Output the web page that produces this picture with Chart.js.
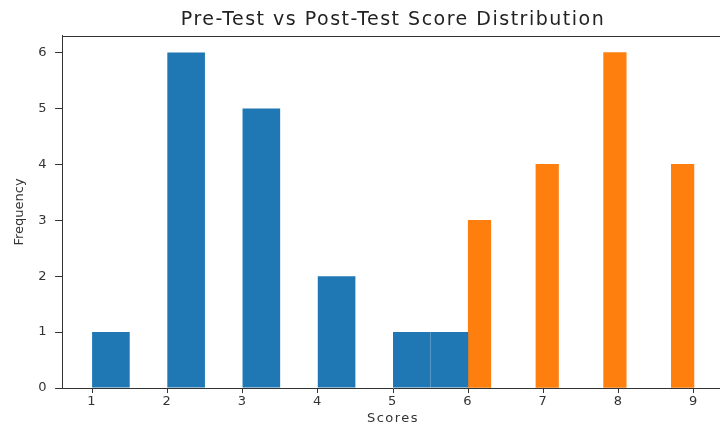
<!DOCTYPE html>
<html>
<head>
<meta charset="utf-8">
<script src="https://cdn.jsdelivr.net/npm/chart.js@4.4.0/dist/chart.umd.min.js"></script>
<style>
html, body { margin: 0; padding: 0; background: #fff; overflow: hidden; }
#wrap { width: 760px; height: 426px; }
</style>
</head>
<body>
<div id="wrap"><canvas id="report_chart"></canvas></div>
<script>
// histogram bins (10 bins each), centers and counts
var preCenters = [1.25, 1.75, 2.25, 2.75, 3.25, 3.75, 4.25, 4.75, 5.25, 5.75];
var preCounts = [1, 0, 6, 0, 5, 0, 2, 0, 1, 1];
var postCenters = [6.15, 6.45, 6.75, 7.05, 7.35, 7.65, 7.95, 8.25, 8.55, 8.85];
var postCounts = [3, 0, 0, 4, 0, 0, 6, 0, 0, 4];
var preBinWidth = 0.5;
var postBinWidth = 0.3;
var xTicks = [1, 2, 3, 4, 5, 6, 7, 8, 9];
var yTicks = [0, 1, 2, 3, 4, 5, 6];

function toPoints(xs, ys) {
    var pts = [];
    for (var i = 0; i < xs.length; i++) {
        pts.push({x: xs[i], y: ys[i]});
    }
    return pts;
}

function barColor(color) {
    return function(ctx) {
        var v = ctx.raw ? ctx.raw.y : 0;
        return v > 0 ? color : 'rgba(0,0,0,0)';
    };
}

// smallest spacing between bar centres is the post-test bin width
var minGap = postBinWidth;

// top frame (right one falls outside the view) and wider text spacing
var spines = {
    id: 'spines',
    beforeDraw: function(chart) {
        chart.ctx.letterSpacing = '1.5px';
        var y = chart.scales.y;
        if (!y._wrapped) {
            var orig = y.drawTitle;
            y.drawTitle = function() {
                var ctx = this.ctx;
                ctx.letterSpacing = '0px';
                orig.apply(this, arguments);
                ctx.letterSpacing = '1.5px';
            };
            y._wrapped = true;
        }
    },
    afterDraw: function(chart) {
        var a = chart.chartArea, ctx = chart.ctx;
        ctx.save();
        ctx.strokeStyle = '#333';
        ctx.lineWidth = 1;
        ctx.beginPath();
        ctx.moveTo(a.left, Math.round(a.top) + 0.5);
        ctx.lineTo(a.right, Math.round(a.top) + 0.5);
        ctx.stroke();
        ctx.restore();
        ctx.letterSpacing = '0px';
    }
};

var tickFont = {family: 'DejaVu Sans', size: 13};

new Chart(document.getElementById('report_chart').getContext('2d'), {
    type: 'bar',
    data: {
        datasets: [{
            label: 'Pre-Test',
            data: toPoints(preCenters, preCounts),
            backgroundColor: barColor('#1f77b4'),
            borderWidth: 0,
            grouped: false,
            barPercentage: 1,
            categoryPercentage: preBinWidth / minGap
        }, {
            label: 'Post-Test',
            data: toPoints(postCenters, postCounts),
            backgroundColor: barColor('#ff7f0e'),
            borderWidth: 0,
            grouped: false,
            barPercentage: 1,
            categoryPercentage: postBinWidth / minGap
        }]
    },
    options: {
        responsive: true,
        maintainAspectRatio: false,
        animation: false,
        layout: {padding: {left: 0, right: 36, top: 0, bottom: 0}},
        plugins: {
            legend: {display: false},
            tooltip: {enabled: false},
            title: {
                display: true,
                fullSize: false,
                text: 'Pre-Test vs Post-Test Score Distribution',
                color: '#222',
                font: {family: 'DejaVu Sans', size: 19, weight: 'normal'},
                padding: {top: 9, bottom: 4}
            }
        },
        scales: {
            x: {
                type: 'linear',
                min: 0.6,
                max: 9.4,
                offset: false,
                afterBuildTicks: function(scale) {
                    scale.ticks = xTicks.map(function(v) { return {value: v}; });
                },
                afterFit: function(scale) { scale.height = 38; },
                grid: {display: true, offset: false, drawOnChartArea: false, drawTicks: true, tickLength: 5, tickColor: '#333'},
                border: {display: true, color: '#333'},
                ticks: {color: '#333', font: tickFont, padding: 1, maxRotation: 0},
                title: {display: true, text: 'Scores', color: '#333', font: {family: 'DejaVu Sans', size: 13}, padding: {top: 0, bottom: 0}}
            },
            y: {
                min: 0,
                max: 6.3,
                afterBuildTicks: function(scale) {
                    scale.ticks = yTicks.map(function(v) { return {value: v}; });
                },
                afterFit: function(scale) { scale.width = 62; },
                grid: {display: true, offset: false, drawOnChartArea: false, drawTicks: true, tickLength: 7, tickColor: '#333'},
                border: {display: true, color: '#333'},
                ticks: {color: '#333', font: tickFont, padding: 7},
                title: {display: true, text: 'Frequency', color: '#333', font: {family: 'DejaVu Sans', size: 13}, padding: {top: 12, bottom: 0}}
            }
        }
    },
    plugins: [spines]
});
</script>
</body>
</html>
